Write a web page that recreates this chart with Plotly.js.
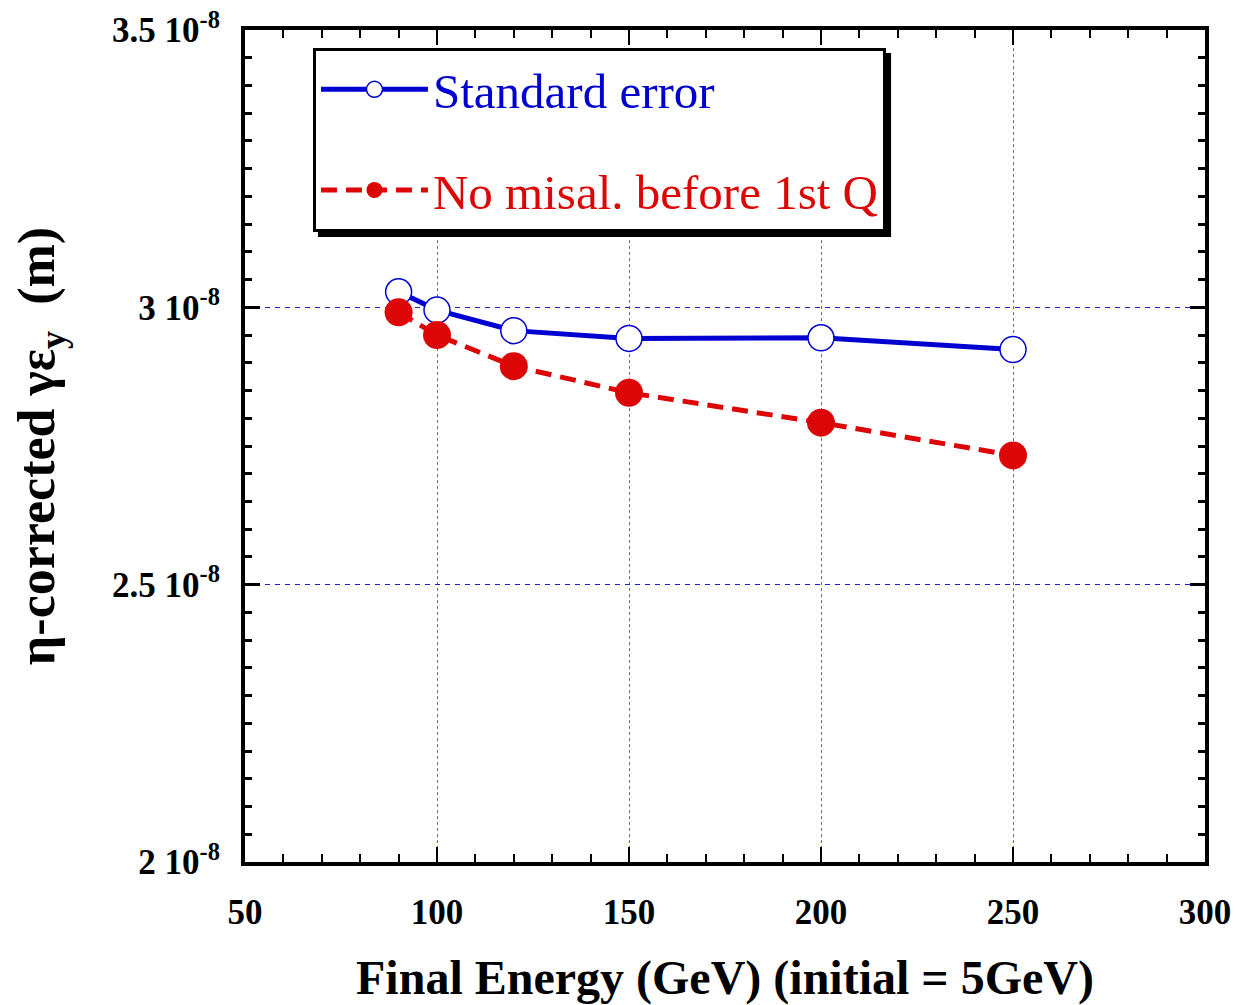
<!DOCTYPE html>
<html>
<head>
<meta charset="utf-8">
<script src="https://cdn.plot.ly/plotly-3.0.1.min.js"></script>
<style>html,body{margin:0;padding:0;background:#fff;}#chart{width:1236px;height:1005px;}</style>
</head>
<body>
<div id="chart"></div>
<script>
// Data
const energy = [90, 100, 120, 150, 200, 250];
const standardError = [3.028e-8, 2.995e-8, 2.958e-8, 2.944e-8, 2.945e-8, 2.924e-8];
const noMisalBefore1stQ = [2.991e-8, 2.950e-8, 2.894e-8, 2.846e-8, 2.792e-8, 2.733e-8];
const seriesNames = ['Standard error', 'No misal. before 1st Q'];
const yTickVals = [2e-8, 2.5e-8, 3e-8, 3.5e-8];
const yTickText = ['2 10<sup>-8</sup>', '2.5 10<sup>-8</sup>', '3 10<sup>-8</sup>', '3.5 10<sup>-8</sup>'];
const xTickVals = [50, 100, 150, 200, 250, 300];

const FONT = 'Liberation Serif, Times New Roman, serif';
const BLUE = '#0000d0';
const RED = '#dd0606';

const traces = [
  {
    x: energy, y: standardError, type: 'scatter', mode: 'lines+markers',
    name: '<span style="color:' + BLUE + '">' + seriesNames[0] + '</span>',
    line: {color: BLUE, width: 5},
    marker: {symbol: 'circle', size: 26, color: '#ffffff', line: {color: BLUE, width: 1.5}},
    legendgroup: 'a'
  },
  {
    x: energy, y: noMisalBefore1stQ, type: 'scatter', mode: 'lines+markers',
    name: '<span style="color:' + RED + '">' + seriesNames[1] + '</span>',
    line: {color: RED, width: 5, dash: '16px,9px'},
    marker: {symbol: 'circle', size: 28, color: RED, line: {color: RED, width: 0}},
    legendgroup: 'b'
  }
];

const layout = {
  width: 1236, height: 1005,
  margin: {l: 245, r: 31, t: 30, b: 143},
  paper_bgcolor: '#fff', plot_bgcolor: '#fff',
  font: {family: FONT, color: '#000'},
  showlegend: true,
  legend: {
    x: 0.0708, y: 0.9784, xanchor: 'left', yanchor: 'top',
    bgcolor: '#fff', bordercolor: '#000', borderwidth: 3,
    font: {family: FONT, size: 49},
    tracegroupgap: 34, itemwidth: 107, traceorder: 'grouped'
  },
  xaxis: {
    range: [50, 300], tickvals: xTickVals, ticktext: xTickVals.map(String),
    ticks: 'inside', ticklen: 15, tickwidth: 2, tickcolor: '#000',
    showline: true, linewidth: 4, linecolor: '#000', mirror: 'allticks',
    showgrid: true, gridcolor: '#5a5aff', gridwidth: 1, griddash: '3px,3px',
    zeroline: false, ticklabelstandoff: 16,
    minor: {dtick: 10, ticks: 'inside', ticklen: 8, tickwidth: 2, tickcolor: '#000', showgrid: false},
    tickfont: {family: FONT, size: 35, weight: 'bold'},
    title: {text: '<b>Final Energy (GeV) (initial = 5GeV)</b>', font: {family: FONT, size: 48}, standoff: 30}
  },
  yaxis: {
    range: [2e-8, 3.5e-8], tickvals: yTickVals, ticktext: yTickText,
    ticks: 'inside', ticklen: 15, tickwidth: 3, tickcolor: '#000',
    showline: true, linewidth: 4, linecolor: '#000', mirror: 'allticks',
    showgrid: true, gridcolor: '#2020d0', gridwidth: 1, griddash: '5px,5px',
    zeroline: false, ticklabelstandoff: 14,
    minor: {dtick: 5e-10, ticks: 'inside', ticklen: 7, tickwidth: 3, tickcolor: '#000', showgrid: false},
    tickfont: {family: FONT, size: 35, weight: 'bold'},
    title: {text: '<b>η-corrected γε<sub>y</sub>  (m)</b>', font: {family: FONT, size: 52}, standoff: 42}
  },
  shapes: [
    {type: 'rect', xref: 'paper', yref: 'paper', layer: 'above',
     x0: 0.076, x1: 0.673, y0: 0.7512, y1: 0.9724, fillcolor: '#000', line: {width: 0}}
  ]
};

Plotly.newPlot('chart', traces, layout, {displayModeBar: false, staticPlot: true});
</script>
</body>
</html>
